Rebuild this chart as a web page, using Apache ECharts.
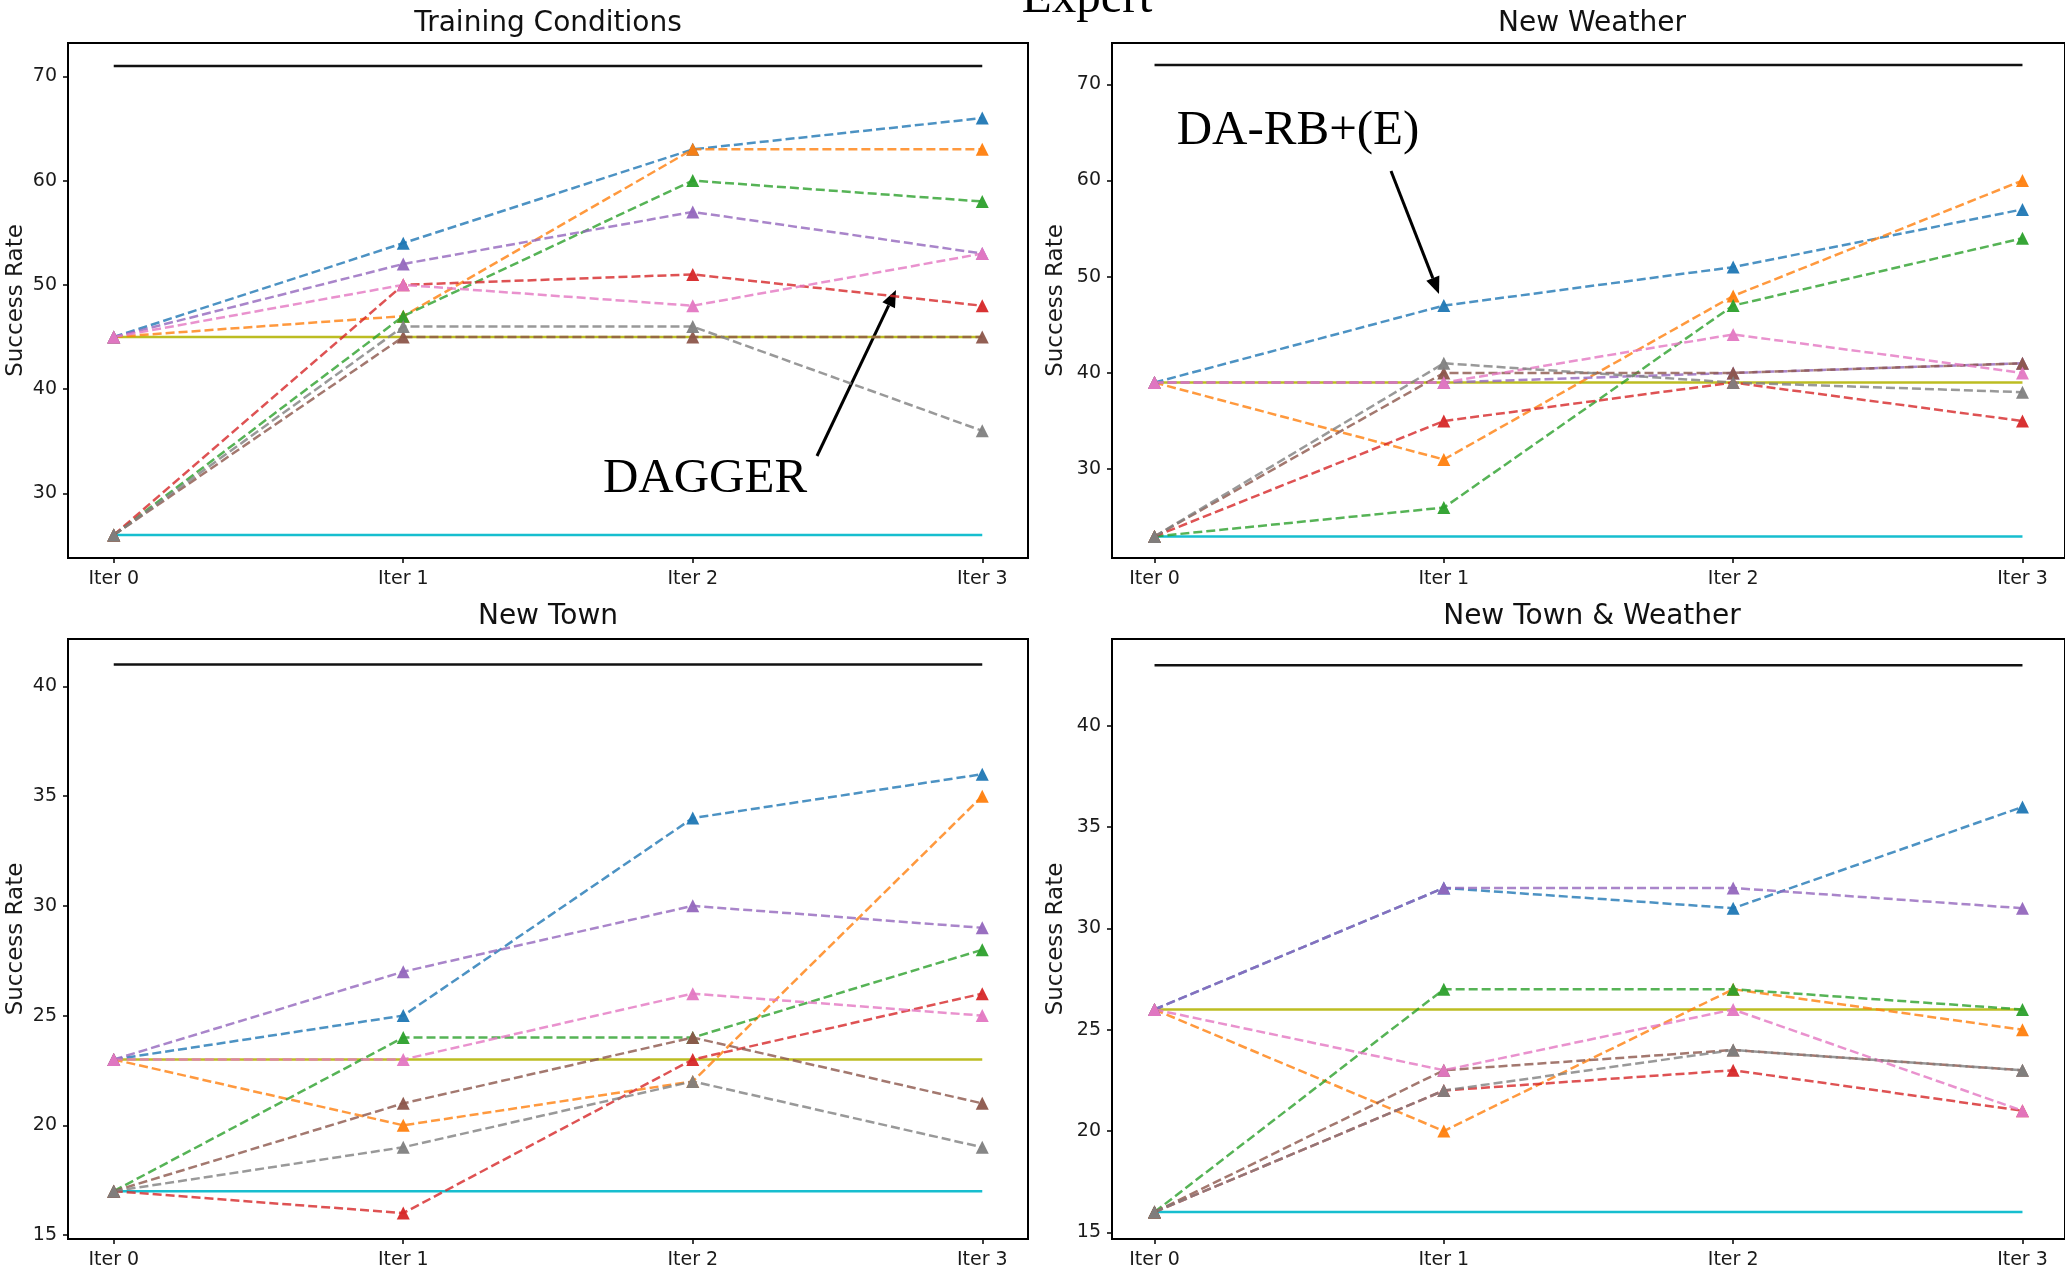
<!DOCTYPE html>
<html>
<head>
<meta charset="utf-8">
<script src="https://cdn.jsdelivr.net/npm/echarts@6/dist/echarts.min.js"></script>
<style>
  html, body { margin: 0; padding: 0; background: #fff; }
  #main { width: 2065px; height: 1274px; }
</style>
</head>
<body>
<div id="main"></div>
<script>
// x categories and panel titles
var iterLabels = ['Iter 0', 'Iter 1', 'Iter 2', 'Iter 3'];
var panelTitles = ['Training Conditions', 'New Weather', 'New Town', 'New Town & Weather'];

// one row per run, colour order C0..C7 (blue, orange, green, red, purple, brown, pink, gray)
var runNames = ['DA-RB+(E)', 'run C1', 'run C2', 'run C3', 'run C4', 'run C5', 'run C6', 'run C7'];
var trainingRuns = [
    [45, 54, 63, 66],
    [45, 47, 63, 63],
    [26, 47, 60, 58],
    [26, 50, 51, 48],
    [45, 52, 57, 53],
    [26, 45, 45, 45],
    [45, 50, 48, 53],
    [26, 46, 46, 36]
];
var weatherRuns = [
    [39, 47, 51, 57],
    [39, 31, 48, 60],
    [23, 26, 47, 54],
    [23, 35, 39, 35],
    [39, 39, 40, 41],
    [23, 40, 40, 41],
    [39, 39, 44, 40],
    [23, 41, 39, 38]
];
var townRuns = [
    [23, 25, 34, 36],
    [23, 20, 22, 35],
    [17, 24, 24, 28],
    [17, 16, 23, 26],
    [23, 27, 30, 29],
    [17, 21, 24, 21],
    [23, 23, 26, 25],
    [17, 19, 22, 19]
];
var townWeatherRuns = [
    [26, 32, 31, 36],
    [26, 20, 27, 25],
    [16, 27, 27, 26],
    [16, 22, 23, 21],
    [26, 32, 32, 31],
    [16, 23, 24, 23],
    [26, 23, 26, 21],
    [16, 22, 24, 23]
];

// flat reference levels per panel
var expertLevel = [71, 72, 41, 43];
var oliveLevel = [45, 39, 23, 26];
var cyanLevel = [26, 23, 17, 16];

// y tick labels per panel
var yTicks = [
    [30, 40, 50, 60, 70],
    [30, 40, 50, 60, 70],
    [15, 20, 25, 30, 35, 40],
    [15, 20, 25, 30, 35, 40]
];

var allRuns = [trainingRuns, weatherRuns, townRuns, townWeatherRuns];
var runColors = ['#1f77b4', '#ff7f0e', '#2ca02c', '#d62728', '#9467bd', '#8c564b', '#e377c2', '#7f7f7f'];

// layout (pixels) and axis extents, matching the matplotlib figure
var grids = [
    {left: 68, top: 43, width: 960, height: 515},
    {left: 1112, top: 43, width: 956, height: 515},
    {left: 68, top: 639, width: 960, height: 600},
    {left: 1112, top: 639, width: 956, height: 600}
];
var xExtent = [[-0.158, 3.158], [-0.147, 3.147], [-0.158, 3.158], [-0.147, 3.147]];
var yExtent = [[23.8, 73.2], [20.76, 74.3], [14.82, 42.16], [14.67, 44.29]];
var titleY = [24, 24, 617, 617];
var nameGaps = [40, 44, 40, 44];

var tickFont = 'DejaVu Sans';

function pts(values) {
    return values.map(function (v, i) { return [i, v]; });
}

function levelLine(name, value, color, idx) {
    return {
        name: name,
        type: 'line',
        xAxisIndex: idx,
        yAxisIndex: idx,
        data: [[0, value], [iterLabels.length - 1, value]],
        symbol: 'none',
        silent: true,
        lineStyle: {color: color, width: 2.5, type: 'solid'},
        itemStyle: {color: color}
    };
}

var xAxes = [], yAxes = [], series = [], graphics = [];

for (var p = 0; p < 4; p++) {
    xAxes.push({
        type: 'value',
        gridIndex: p,
        min: xExtent[p][0],
        max: xExtent[p][1],
        splitLine: {show: false},
        axisLine: {show: true, onZero: false, lineStyle: {color: '#000', width: 2}},
        axisTick: {show: true, inside: false, length: 5, customValues: [0, 1, 2, 3], lineStyle: {color: '#000', width: 1.5}},
        axisLabel: {
            customValues: [0, 1, 2, 3],
            margin: 12,
            color: '#1a1a1a',
            fontFamily: tickFont,
            fontSize: 19,
            formatter: function (v) { return iterLabels[Math.round(v)]; }
        }
    });
    yAxes.push({
        type: 'value',
        gridIndex: p,
        min: yExtent[p][0],
        max: yExtent[p][1],
        name: 'Success Rate',
        nameLocation: 'middle',
        nameRotate: 90,
        nameGap: nameGaps[p],
        nameTextStyle: {color: '#1a1a1a', fontFamily: tickFont, fontSize: 23},
        splitLine: {show: false},
        axisLine: {show: true, onZero: false, lineStyle: {color: '#000', width: 2}},
        axisTick: {show: true, inside: false, length: 5, customValues: yTicks[p], lineStyle: {color: '#000', width: 1.5}},
        axisLabel: {
            customValues: yTicks[p],
            margin: 11,
            color: '#1a1a1a',
            fontFamily: tickFont,
            fontSize: 19
        }
    });

    series.push(levelLine('Expert', expertLevel[p], '#111', p));
    series.push(levelLine('olive level', oliveLevel[p], '#bcbd22', p));
    series.push(levelLine('cyan level', cyanLevel[p], '#17becf', p));

    var runs = allRuns[p];
    for (var r = 0; r < runs.length; r++) {
        series.push({
            name: runNames[r],
            type: 'line',
            xAxisIndex: p,
            yAxisIndex: p,
            data: pts(runs[r]),
            symbol: 'triangle',
            symbolSize: 13,
            lineStyle: {color: runColors[r], width: 2.5, type: [9, 4], opacity: 0.8},
            itemStyle: {color: runColors[r], opacity: 0.95}
        });
    }

    graphics.push({
        type: 'text',
        x: grids[p].left + 480,
        y: titleY[p],
        silent: true,
        style: {
            text: panelTitles[p],
            fill: '#111',
            font: '28px "DejaVu Sans"',
            align: 'center',
            verticalAlign: 'middle'
        }
    });
}

// arrows + serif annotations
function arrow(x1, y1, x2, y2) {
    var dx = x2 - x1, dy = y2 - y1;
    var len = Math.sqrt(dx * dx + dy * dy);
    var ux = dx / len, uy = dy / len;
    var headLen = 17, headW = 7;
    var bx = x2 - ux * headLen, by = y2 - uy * headLen;
    return [
        {type: 'line', silent: true, shape: {x1: x1, y1: y1, x2: bx, y2: by},
         style: {stroke: '#000', lineWidth: 3}},
        {type: 'polygon', silent: true,
         shape: {points: [[x2, y2], [bx - uy * headW, by + ux * headW], [bx + uy * headW, by - ux * headW]]},
         style: {fill: '#000'}}
    ];
}

function serifText(text, x, y) {
    return {
        type: 'text', x: x, y: y, silent: true,
        style: {text: text, fill: '#000', font: '49px "Liberation Serif"', align: 'center', verticalAlign: 'middle'}
    };
}

graphics.push(serifText('Expert', 1087, -1));
graphics.push(serifText('DAGGER', 705, 479));
graphics.push(serifText('DA-RB+(E)', 1298, 131));
graphics = graphics.concat(arrow(817, 456, 896, 290));
graphics = graphics.concat(arrow(1391, 171, 1439, 294));

var myChart = echarts.init(document.getElementById('main'));
var option = {
    animation: false,
    backgroundColor: '#fff',
    grid: grids.map(function (g) {
        return {left: g.left, top: g.top, width: g.width, height: g.height,
                show: true, borderColor: '#000', borderWidth: 2, backgroundColor: 'transparent',
                containLabel: false};
    }),
    xAxis: xAxes,
    yAxis: yAxes,
    series: series,
    graphic: graphics
};
myChart.setOption(option);
</script>
</body>
</html>
